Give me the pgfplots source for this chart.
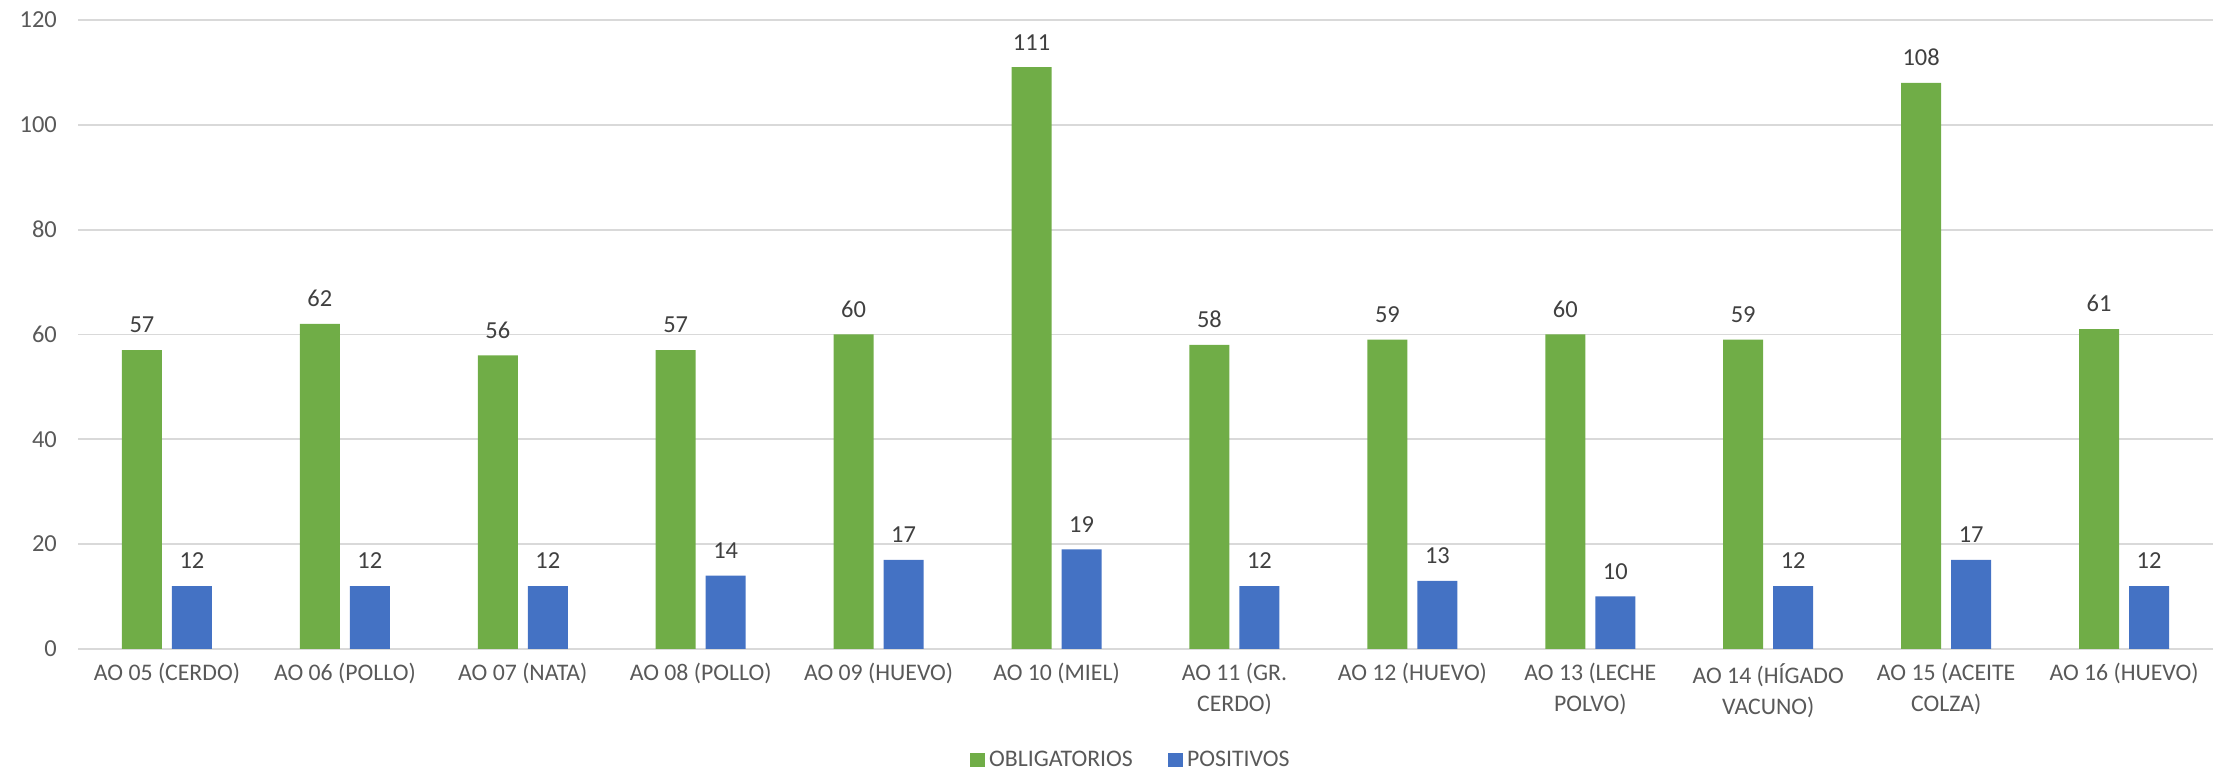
\documentclass[border=0pt]{standalone}
\usepackage{pgfplots}
\pgfplotsset{compat=1.18}
\usepackage{fontspec}
\setmainfont{Carlito}
\definecolor{gverde}{HTML}{70AD47}
\definecolor{gazul}{HTML}{4472C4}
\definecolor{txt}{HTML}{595959}
\definecolor{lbl}{HTML}{404040}
\definecolor{grid}{HTML}{D9D9D9}

\begin{document}
\begin{tikzpicture}
\begin{axis}[
    name=ax,
    scale only axis,
    width=960.75pt, height=283pt,
    ybar=4.5pt, bar width=18pt,
    xmin=-0.5, xmax=11.5,
    ymin=0, ymax=120, ytick distance=20,
    xtick=data,
    xticklabels={AO 05 (CERDO), AO 06 (POLLO), AO 07 (NATA), AO 08 (POLLO), AO 09 (HUEVO), AO 10 (MIEL), {AO 11 (GR.\\CERDO)}, AO 12 (HUEVO), {AO 13 (LECHE\\POLVO)}, {AO 14 (HÍGADO\\VACUNO)}, {AO 15 (ACEITE\\COLZA)}, AO 16 (HUEVO)},
    xticklabel style={align=center, font=\fontsize{10.7}{14}\selectfont, text=txt, yshift=-3pt},
    yticklabel style={font=\fontsize{11}{14}\selectfont, text=txt, xshift=-6pt},
    /pgf/number format/assume math mode=true,
    major tick length=0pt,
    axis y line*=left, y axis line style={draw=none},
    axis x line*=bottom, x axis line style={draw=grid, line width=1pt, -},
    ymajorgrids, grid style={draw=grid, line width=0.8pt},
    axis line style={-},
    nodes near coords,
    every node near coord/.append style={font=\fontsize{11}{14}\selectfont, text=lbl, anchor=south, inner sep=0pt, yshift=7.5pt},
    legend style={at={(0.5,0)}, anchor=center, xshift=-6pt, yshift=-50pt, draw=none, font=\fontsize{10.7}{14}\selectfont, text=txt, legend columns=2, /tikz/every even column/.append style={column sep=14pt}},
    legend image code/.code={\fill[#1] (0pt,-3.2pt) rectangle (6.4pt,3.2pt);},
]
\addplot[fill=gverde, draw=none] coordinates {(0,57) (1,62) (2,56) (3,57) (4,60) (5,111) (6,58) (7,59) (8,60) (9,59) (10,108) (11,61)};
\addplot[fill=gazul, draw=none] coordinates {(0,12) (1,12) (2,12) (3,14) (4,17) (5,19) (6,12) (7,13) (8,10) (9,12) (10,17) (11,12)};
\legend{OBLIGATORIOS, POSITIVOS}
\end{axis}
\pgfresetboundingbox
\path[use as bounding box] ([xshift=-35.1pt,yshift=-56.25pt]ax.south west) rectangle ([xshift=2.25pt,yshift=9pt]ax.north east);
\end{tikzpicture}
\end{document}
